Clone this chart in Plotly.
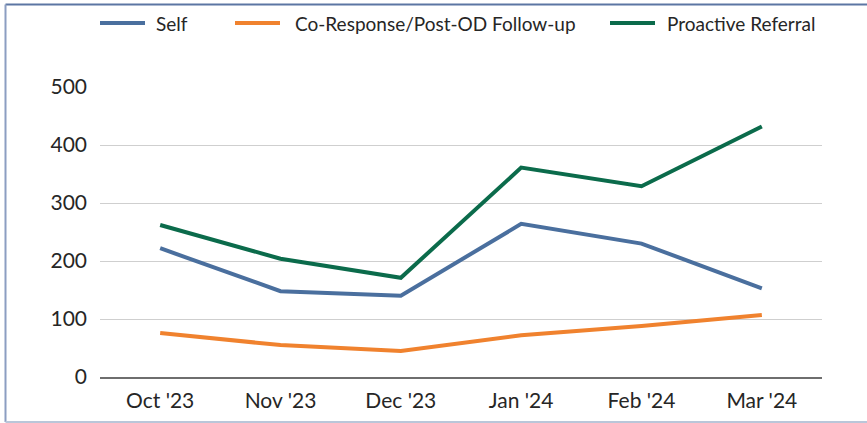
import plotly.graph_objects as go

months = ["Oct '23", "Nov '23", "Dec '23", "Jan '24", "Feb '24", "Mar '24"]
self_referral = [222, 148, 140, 264, 230, 153]
co_response = [76, 55, 45, 72, 88, 107]
proactive = [262, 204, 171, 361, 329, 432]
series_names = ["Self", "Co-Response/Post-OD Follow-up", "Proactive Referral"]

W, H = 867, 423
L, R, T, B = 100, 45, 87, 46
pw, ph = W - L - R, H - T - B


def px(x):
    return (x - L) / pw


def py(y):
    return (H - B - y) / ph


colors = ["#4A6F9E", "#F0822E", "#0B6B4B"]
fig = go.Figure()
for name, vals, color in zip(series_names, [self_referral, co_response, proactive], colors):
    fig.add_trace(go.Scatter(
        x=months, y=vals, mode="lines", name=name,
        line=dict(color=color, width=4), showlegend=False,
    ))

# legend drawn by hand so the spacing matches (line start, text start in px)
legend_pos = [(100, 154), (235, 293), (610, 665)]
for name, color, (x0, xt) in zip(series_names, colors, legend_pos):
    fig.add_shape(type="line", xref="paper", yref="paper",
                  x0=px(x0), x1=px(x0 + 45), y0=py(23), y1=py(23),
                  line=dict(color=color, width=4))
    fig.add_annotation(xref="paper", yref="paper", x=px(xt), y=py(23),
                       text=name, showarrow=False, xanchor="left", yanchor="middle",
                       font=dict(family="Lato", size=19, color="#262626"))

# frame around the chart
fig.add_shape(type="line", xref="paper", yref="paper",
              x0=px(5.5), x1=px(W), y0=py(4.5), y1=py(4.5),
              line=dict(color="#5C76A3", width=2))
fig.add_shape(type="line", xref="paper", yref="paper",
              x0=px(5.5), x1=px(5.5), y0=py(4.5), y1=py(422),
              line=dict(color="#8C9EC2", width=2))
fig.add_shape(type="line", xref="paper", yref="paper",
              x0=px(5.5), x1=px(W), y0=py(422), y1=py(422),
              line=dict(color="#BAC6D9", width=2))

fig.update_xaxes(
    range=[-0.5, 5.5], showgrid=False, showline=True,
    linecolor="#6E6E6E", linewidth=2, ticks="",
    ticklabelstandoff=4,
    tickfont=dict(family="Lato", size=21, color="#262626"),
)
fig.update_yaxes(
    range=[0, 500], dtick=100, showgrid=True, gridcolor="#CFCFCF",
    gridwidth=1, zeroline=False, showline=False, ticks="",
    ticklabelstandoff=12,
    tickfont=dict(family="Lato", size=21, color="#262626"),
)
fig.update_layout(
    width=W, height=H,
    margin=dict(l=L, r=R, t=T, b=B, pad=0, autoexpand=False),
    plot_bgcolor="white", paper_bgcolor="white",
)

fig.write_html(
    "out.html",
    config={"displayModeBar": False},
    post_script="document.body.style.margin='0';document.body.style.overflow='hidden';",
)
